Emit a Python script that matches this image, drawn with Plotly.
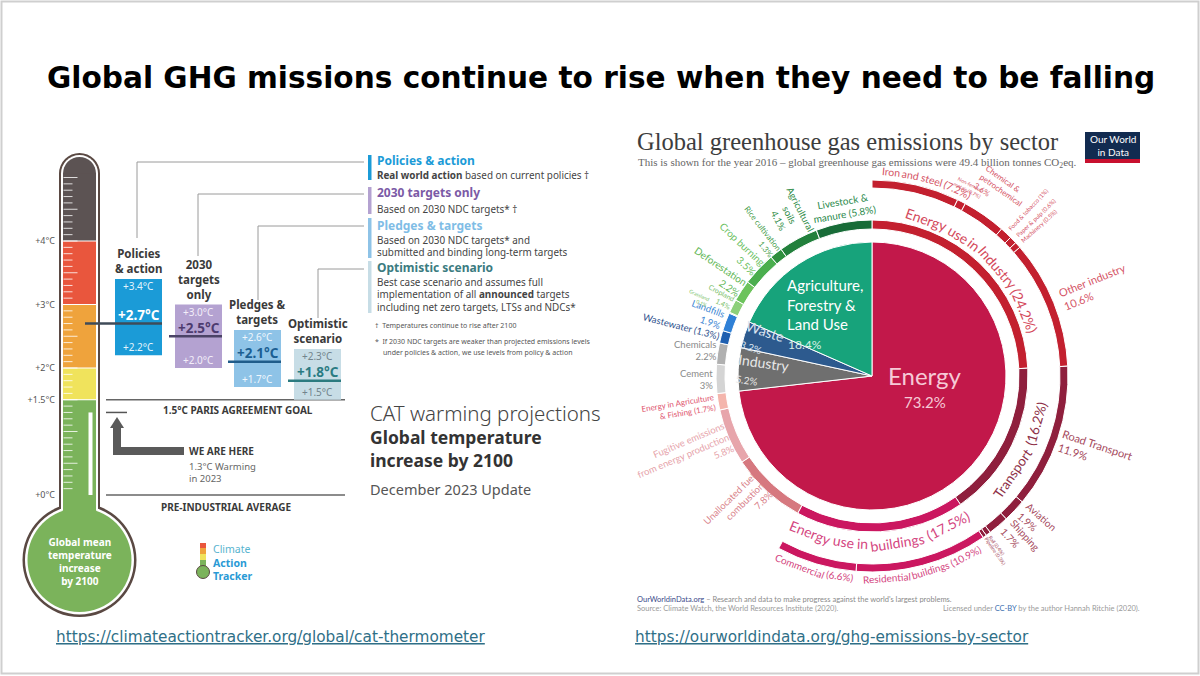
import math
import plotly.graph_objects as go

W, H = 1200, 676

# ============================ DATA ============================
slide_title = "Global GHG missions continue to rise when they need to be falling"

# --- Climate Action Tracker: warming by 2100 (°C) ---
scenario_headings = ["Policies<br>& action", "2030<br>targets<br>only", "Pledges &<br>targets", "Optimistic<br>scenario"]
scenario_low = [2.2, 2.0, 1.7, 1.5]
scenario_central = [2.7, 2.5, 2.1, 1.8]
scenario_high = [3.4, 3.0, 2.6, 2.3]
thermo_tick_values = [0, 1.5, 2, 3, 4]
thermo_tick_text = ["+0°C", "+1.5°C", "+2°C", "+3°C", "+4°C"]
band_limits = [1.5, 2.0, 3.0, 4.0]
paris_goal = 1.5
preindustrial = 0.0
warming_2023 = 1.3

legend_titles = ["Policies & action", "2030 targets only", "Pledges & targets", "Optimistic scenario"]
legend_bodies = [
    ["<b>Real world action</b> based on current policies †"],
    ["Based on 2030 NDC targets* †"],
    ["Based on 2030 NDC targets* and", "submitted and binding long-term targets"],
    ["Best case scenario and assumes full",
     "implementation of all <b>announced</b> targets",
     "including net zero targets, LTSs and NDCs*"],
]

# --- Our World in Data: share of global GHG emissions 2016 (%) ---
sector_names = ["Energy", "Industry", "Waste", "Agriculture, Forestry & Land Use"]
sector_shares = [73.2, 5.2, 3.2, 18.4]

sub_names = ["Energy use in Industry", "Transport", "Energy use in buildings",
             "Unallocated fuel combustion", "Fugitive emissions from energy production",
             "Energy in Agriculture & Fishing", "Cement", "Chemicals", "Wastewater", "Landfills",
             "Grassland", "Cropland", "Deforestation", "Crop burning", "Rice cultivation",
             "Agricultural soils", "Livestock & manure"]
sub_shares = [24.2, 16.2, 17.5, 7.8, 5.8, 1.7, 3.0, 2.2, 1.3, 1.9,
              0.1, 1.4, 2.2, 3.5, 1.3, 4.1, 5.8]

detail_names = ["Iron and steel", "Non-ferrous metals", "Chemical & petrochemical",
                "Food & tobacco", "Paper & pulp", "Machinery", "Other industry",
                "Road Transport", "Aviation", "Shipping", "Rail", "Pipeline",
                "Residential buildings", "Commercial"]
detail_shares = [7.2, 0.7, 3.6, 1.0, 0.6, 0.5, 10.6, 11.9, 1.9, 1.7, 0.4, 0.3, 10.9, 6.6]
detail_parent = ["Energy use in Industry"] * 7 + ["Transport"] * 5 + ["Energy use in buildings"] * 2

# ============================ STYLE ============================
SANS = "Noto Sans"
LATO = "Lato"
scenario_colors = ["#1b9bd7", "#b4a2d1", "#8ec3e7", "#c7dde6"]
median_colors = ["#3f4b58", "#4b4366", "#1f5c8a", "#2b7b80"]
high_low_colors = ["#e3f3fb", "#f3eef9", "#f0f7fd", "#72848c"]
central_colors = ["#ffffff", "#4d3b6f", "#1b5e92", "#2a7b82"]
legend_colors = ["#1b9bd7", "#7b5aa6", "#7fbde6", "#3b7b80"]
band_colors = ["#7bb35b", "#f0e35c", "#efa33c", "#e9563d", "#5c5353"]
BROWN = "#5a4943"

sector_colors = ["#c2184a", "#6f6f6f", "#2d5a8e", "#17a37b"]
sub_colors = ["#c3202f", "#8f1f3d", "#cb1760", "#d6787f", "#e7a5ab", "#f4b5ac",
              "#d4d4d4", "#b0b0b0", "#1e5fb0", "#2f80d6",
              "#a5d98e", "#8dd07a", "#6cc35c", "#4aae4e", "#2e8f3e", "#22803c", "#186c38"]
detail_colors = ["#c3202f"] * 7 + ["#8f1f3d"] * 5 + ["#cb1760"] * 2

# ============================ HELPERS ============================
def P(x): return x / W
def Q(y): return 1 - y / H

T0_PX, PX_PER_C = 495.0, 63.5          # thermometer: pixel row of +0°C, pixels per °C
def T_of(ypx): return (T0_PX - ypx) / PX_PER_C

shapes, ann = [], []

def t(x, y, s, size, color, family=SANS, weight="normal", xanchor="left", yanchor="middle",
      angle=0, align="left", xref="paper", yref="paper", xshift=0, yshift=0, under=False):
    font = dict(size=size, color=color, family=family, weight=weight)
    if under:
        font["lineposition"] = "under"
    xx = P(x) if xref == "paper" else x
    yy = Q(y) if yref == "paper" else y
    ann.append(dict(x=xx, y=yy, xref=xref, yref=yref, text=s, showarrow=False, font=font,
                    xanchor=xanchor, yanchor=yanchor, textangle=angle, align=align,
                    xshift=xshift, yshift=yshift, borderpad=0))

def prect(x0, y0, x1, y1, fill, layer="below"):
    shapes.append(dict(type="rect", xref="paper", yref="paper", x0=P(x0), x1=P(x1),
                       y0=Q(y1), y1=Q(y0), fillcolor=fill, line=dict(width=0), layer=layer))

def pcirc(cx, cy, r, fill, layer="below", line=None):
    shapes.append(dict(type="circle", xref="paper", yref="paper", x0=P(cx - r), x1=P(cx + r),
                       y0=Q(cy + r), y1=Q(cy - r), fillcolor=fill,
                       line=line or dict(width=0), layer=layer))

def pline(x0, y0, x1, y1, color, width=1, layer="below"):
    shapes.append(dict(type="line", xref="paper", yref="paper", x0=P(x0), y0=Q(y0),
                       x1=P(x1), y1=Q(y1), line=dict(color=color, width=width), layer=layer))

def ppath(pts, fill, layer="below"):
    d = "M " + " L ".join(f"{P(x)},{Q(y)}" for x, y in pts) + " Z"
    shapes.append(dict(type="path", xref="paper", yref="paper", path=d, fillcolor=fill,
                       line=dict(width=0), layer=layer))

def drect(x0, t0, x1, t1, fill, layer="below"):
    shapes.append(dict(type="rect", xref="x", yref="y", x0=x0, x1=x1, y0=t0, y1=t1,
                       fillcolor=fill, line=dict(width=0), layer=layer))

def dline(x0, t0, x1, t1, color, width=1, layer="below"):
    shapes.append(dict(type="line", xref="x", yref="y", x0=x0, x1=x1, y0=t0, y1=t1,
                       line=dict(color=color, width=width), layer=layer))

def pct(v):
    return f"{v:g}%"

fig = go.Figure()

# frame of the slide
shapes.append(dict(type="rect", xref="paper", yref="paper", x0=P(1.5), x1=P(1198.5), y0=Q(673.5), y1=Q(1.5),
                   line=dict(color="#cfcfcf", width=2), fillcolor="rgba(0,0,0,0)", layer="below"))

# title
t(601, 78, slide_title, 29.6, "#000000", family="DejaVu Sans", weight="bold", xanchor="center")

# ============================ LEFT: CAT THERMOMETER ============================
TX = 79.5
TUBE_TOP, TUBE_BOT = 173.5, 530
BULB_Y, BULB_R = 560, 57
prect(TX - 20.5, TUBE_TOP, TX + 20.5, TUBE_BOT, BROWN)
pcirc(TX, TUBE_TOP, 20.5, BROWN)
pcirc(TX, BULB_Y, BULB_R, BROWN)
prect(TX - 18.5, TUBE_TOP, TX + 18.5, TUBE_BOT, "white")
pcirc(TX, TUBE_TOP, 18.5, "white")
pcirc(TX, BULB_Y, BULB_R - 2.5, "white")
band_bottoms = [T_of(TUBE_BOT)] + band_limits
band_tops = band_limits + [T_of(TUBE_TOP)]
for b0, b1, c in zip(band_bottoms, band_tops, band_colors):
    drect(TX - 16.5, b0, TX + 16.5, b1, c)
pcirc(TX, TUBE_TOP, 16.5, band_colors[-1])
pcirc(TX, BULB_Y, BULB_R - 5, band_colors[0])
for lim in band_limits:
    dline(TX - 16.5, lim, TX + 16.5, lim, "white", 1.2)
for k in range(1, 51):
    long = (k % 5 == 0)
    dline(TX - 16, k / 10, TX - 16 + (14 if long else 9), k / 10, "rgba(255,255,255,0.8)", 1)
drect(TX + 9, preindustrial, TX + 13, warming_2023, "white")

# scenario bars
scenario_x = [138.5, 198.5, 257.5, 317.5]
BAR_W = 47
fig.add_trace(go.Bar(x=scenario_x, y=[h - l for h, l in zip(scenario_high, scenario_low)],
                     base=scenario_low, width=BAR_W, xaxis="x", yaxis="y",
                     marker=dict(color=scenario_colors, line=dict(width=0)), hoverinfo="skip"))

median_start = [85, 169, 228, 288]
for i in range(4):
    dline(median_start[i], scenario_central[i], scenario_x[i] + BAR_W / 2, scenario_central[i],
          median_colors[i], 2.5, layer="above")
    t(scenario_x[i], scenario_high[i], f"+{scenario_high[i]:.1f}°C", 10, high_low_colors[i],
      xanchor="center", xref="x", yref="y", yshift=-7)
    t(scenario_x[i], scenario_low[i], f"+{scenario_low[i]:.1f}°C", 10, high_low_colors[i],
      xanchor="center", xref="x", yref="y", yshift=8)
    t(scenario_x[i], scenario_central[i], f"+{scenario_central[i]:.1f}°C", 13.5, central_colors[i],
      weight="bold", xanchor="center", xref="x", yref="y", yshift=8.5)
    t(scenario_x[i], scenario_high[i], scenario_headings[i], 11.5, "#3a3a3a", weight="bold",
      xanchor="center", yanchor="bottom", align="center", xref="x", yref="y", yshift=2)

# connectors to legend
conn_x = [137, 198, 258, 318]
conn_bottom = [238, 256, 300, 318]
conn_top = [162, 194, 226, 269]
for cx_, cb, ct in zip(conn_x, conn_bottom, conn_top):
    pline(cx_, cb, cx_, ct, "#9a9a9a", 1)
    pline(cx_, ct, 364, ct, "#9a9a9a", 1)

# legend
leg_bar_y = [(155, 180), (187, 214), (218, 258), (261, 313)]
leg_title_y = [160.5, 193, 225, 267]
leg_body_y = [[175.5], [208.5], [240, 252.5], [282, 294.5, 307]]
for i in range(4):
    prect(368, leg_bar_y[i][0], 371.5, leg_bar_y[i][1], scenario_colors[i])
    t(376, leg_title_y[i], legend_titles[i], 12, legend_colors[i], weight="bold")
    for yy, body in zip(leg_body_y[i], legend_bodies[i]):
        t(376, yy, body, 9.9, "#444444")
t(374, 325.5, "†  Temperatures continue to rise after 2100", 7, "#555555")
t(374, 341.5, "*  If 2030 NDC targets are weaker than projected emissions levels", 7, "#555555")
t(382, 352.5, "under policies & action, we use levels from policy & action", 7, "#555555")

# Paris goal / pre-industrial lines
dline(106, paris_goal, 345, paris_goal, "#666666", 1.3)
t(238, 410, "1.5°C PARIS AGREEMENT GOAL", 10, "#3a3a3a", weight="bold", xanchor="center")
dline(106, preindustrial, 345, preindustrial, "#666666", 1.3)
t(226, 507, "PRE-INDUSTRIAL AVERAGE", 10, "#3a3a3a", weight="bold", xanchor="center")

# "we are here" marker
dline(106, warming_2023, 127, warming_2023, "#555555", 1.5)
ppath([(117, 417), (124, 428), (110, 428)], "#5a5a5a")
prect(113, 428, 121, 455, "#5a5a5a")
prect(113, 447, 184, 455, "#5a5a5a")
t(188, 451, "WE ARE HERE", 10, "#3a3a3a", weight="bold")
t(188, 472, f"{warming_2023}°C Warming<br>in 2023", 9.5, "#666666")

# CAT caption
t(369, 413, "CAT warming projections", 20.5, "#444444", weight=300)
t(369, 437, "Global temperature", 17.5, "#333333", weight="bold")
t(369, 460, "increase by 2100", 17.5, "#333333", weight="bold")
t(369, 489, "December 2023 Update", 14.5, "#555555")

# bulb text
t(TX, 561, "Global mean<br>temperature<br>increase<br>by 2100", 10, "white", weight="bold",
  xanchor="center", align="center")

# CAT logo
prect(200, 543, 206, 548, "#e9563d")
prect(200, 548, 206, 554, "#efa33c")
prect(200, 554, 206, 560, "#f0e35c")
prect(200, 560, 206, 570, "#7bb35b")
pcirc(203, 572, 6.5, "#7bb35b", line=dict(color=BROWN, width=1))
t(212, 562, "<span style='color:#58b4cf'>Climate</span><br><b>Action</b><br><b>Tracker</b>", 10.5,
  "#2a9ad5", align="left")

# link
t(55, 637, "https://climateactiontracker.org/global/cat-thermometer", 15.3, "#2f6f87",
  family="DejaVu Sans", under=True)

# ============================ RIGHT: OWID DONUT ============================
CX, CY, RMAX = 872, 376, 200
PIE_R = 134
MID_R = (147, 156)
OUT_R = (188, 196)

arc = {}
s = 0.0
for n, v in zip(sector_names, sector_shares):
    arc[n] = (s, s + v * 3.6); s += v * 3.6
s = 0.0
for n, v in zip(sub_names, sub_shares):
    arc[n] = (s, s + v * 3.6); s += v * 3.6
cursor = {}
for n, v, p in zip(detail_names, detail_shares, detail_parent):
    st = cursor.get(p, arc[p][0])
    arc[n] = (st, st + v * 3.6); cursor[p] = st + v * 3.6
share = dict(zip(sector_names + sub_names + detail_names, sector_shares + sub_shares + detail_shares))

def ring(names, colors, r0, r1):
    return go.Barpolar(theta=[(arc[n][0] + arc[n][1]) / 2 for n in names],
                       width=[arc[n][1] - arc[n][0] for n in names],
                       base=[r0] * len(names), r=[r1 - r0] * len(names),
                       marker=dict(color=colors, line=dict(color="white", width=1)),
                       hoverinfo="skip", subplot="polar")

fig.add_trace(ring(sector_names, sector_colors, 0, PIE_R))
fig.add_trace(ring(sub_names, sub_colors, *MID_R))
fig.add_trace(ring(detail_names, detail_colors, *OUT_R))

def polar_px(theta, R):
    return CX + R * math.sin(math.radians(theta)), CY - R * math.cos(math.radians(theta))

def mid(n):
    return (arc[n][0] + arc[n][1]) / 2

def norm(a):
    while a > 180: a -= 360
    while a < -180: a += 360
    return a

def label_angle(theta, mode):
    if mode == "tan":
        return norm(theta) if (theta < 90 or theta > 270) else norm(theta - 180)
    if mode == "rad":
        return norm(theta - 90) if theta < 180 else norm(theta - 270)
    return 0

EM = {" ": 0.25, "i": 0.24, "l": 0.24, "r": 0.36, "t": 0.35, "s": 0.42, "(": 0.3, ")": 0.3,
      ".": 0.25, "%": 0.8, "I": 0.26, "c": 0.46, "f": 0.32, "j": 0.24, "m": 0.82, "w": 0.74}
def em_width(s):
    return sum(EM.get(c, 0.6 if c.isupper() else (0.58 if c.isdigit() else 0.52)) for c in s)

def curved(text_, theta_c, R, size, color, top=True):
    words = text_.split(" ")
    widths = [em_width(w) * size for w in words]
    gap = 0.25 * size
    total = sum(widths) + gap * (len(words) - 1)
    direction = 1 if top else -1
    pos = -total / 2
    for w, wd in zip(words, widths):
        sm = pos + wd / 2
        th = theta_c + direction * math.degrees(sm / R)
        x, y = polar_px(th, R)
        ang = norm(th) if top else norm(th - 180)
        t(x, y, w, size, color, family=LATO, xanchor="center", angle=ang)
        pos += wd + gap

curved_labels = [
    ("Energy use in Industry", 166, 14, "#d44a5c", True, 0),
    ("Transport", 171, 13.5, "#8e3048", False, 0),
    ("Energy use in buildings", 168, 14, "#d4467f", False, 0),
    ("Iron and steel", 205, 10.5, "#d55466", True, 3),
    ("Residential buildings", 203, 10, "#d4467f", False, 0),
    ("Commercial", 203, 10, "#d4467f", False, 0),
]
for name, R, size, color, top, dth in curved_labels:
    curved(f"{name} ({pct(share[name])})", mid(name) + dth, R, size, color, top)

straight_labels = [
    # name, radius, mode, size, template, align, angle offset, colour
    ("Unallocated fuel combustion", 188, "rad", 9.5, "Unallocated fuel<br>combustion<br>{p}", "right", 3, "#d9828a"),
    ("Fugitive emissions from energy production", 205, "rad", 9.5, "Fugitive emissions<br>from energy production<br>{p}", "right", 0, "#e6a3aa"),
    ("Energy in Agriculture & Fishing", 196, "rad", 8, "Energy in Agriculture<br>& Fishing ({p})", "right", 0, "#e0566f"),
    ("Cement", 176, "flat", 9.5, "Cement<br>{p}", "right", 0, "#8a8a8a"),
    ("Chemicals", 178, "flat", 9.5, "Chemicals<br>{p}", "right", 0, "#8a8a8a"),
    ("Wastewater", 197, "rad", 9.5, "Wastewater ({p})", "right", 0, "#2c4f8c"),
    ("Landfills", 176, "rad", 9.5, "Landfills<br>{p}", "right", 0, "#3d87d4"),
    ("Grassland", 190, "rad", 5, "Grassland<br>{p}", "right", 0, "#78c068"),
    ("Cropland", 172, "rad", 7, "Cropland<br>{p}", "right", 1, "#78c068"),
    ("Deforestation", 187, "rad", 10, "Deforestation<br>{p}", "right", 1, "#62b756"),
    ("Crop burning", 185, "rad", 10, "Crop burning<br>{p}", "right", 0, "#6cbf62"),
    ("Rice cultivation", 183, "rad", 8, "Rice cultivation<br>{p}", "right", 0, "#4aa04e"),
    ("Agricultural soils", 181, "rad", 9.5, "Agricultural<br>soils<br>{p}", "center", 1, "#2e8c45"),
    ("Livestock & manure", 171, "tan", 10, "Livestock &<br>manure ({p})", "center", 1, "#2b8a4c"),
    ("Non-ferrous metals", 212, "tan", 5, "Non-ferrous<br>metals ({p})", "center", 0, "#d55466"),
    ("Chemical & petrochemical", 226, "tan", 8, "Chemical &<br>petrochemical<br>{p}", "left", 0, "#d55466"),
    ("Food & tobacco", 228, "rad", 6, "Food & tobacco ({p})", "left", 0, "#d55466"),
    ("Paper & pulp", 228, "rad", 6, "Paper & pulp ({p})", "left", 0, "#d55466"),
    ("Machinery", 225, "rad", 6, "Machinery ({p})", "left", 0, "#d55466"),
    ("Other industry", 240, "rad", 11, "Other industry<br>{p}", "left", 0, "#d55466"),
    ("Road Transport", 236, "rad", 11, "Road Transport<br>{p}", "left", 0, "#a5495c"),
    ("Aviation", 220, "rad", 10, "Aviation<br>{p}", "left", -2, "#a5495c"),
    ("Shipping", 221, "rad", 10, "Shipping<br>{p}", "left", -2, "#a5495c"),
    ("Rail", 211, "rad", 5, "Rail ({p})", "left", 0, "#a5495c"),
    ("Pipeline", 214, "rad", 5, "Pipeline ({p})", "left", 0, "#a5495c"),
]
for name, R, mode, size, tmpl, align, dth, color in straight_labels:
    th = mid(name) + dth
    x, y = polar_px(th, R)
    t(x, y, tmpl.format(p=pct(share[name])), size, color, family=LATO, xanchor="center",
      angle=label_angle(th, mode), align=align)

# inner pie labels
t(925, 376, "Energy", 24, "#f6c9d6", family=LATO, xanchor="center")
t(925, 402, pct(share["Energy"]), 15, "#f6c9d6", family=LATO, xanchor="center")
t(786, 305, "Agriculture,<br>Forestry &<br>Land Use", 15, "#ffffff", family=LATO)
t(787, 344, pct(share["Agriculture, Forestry & Land Use"]), 12, "#d9f1e6", family=LATO)
t(762, 339, f"Waste<br><span style='font-size:10px'>{pct(share['Waste'])}</span>", 14, "#dbe4f0",
  family=LATO, xanchor="center", angle=18)
t(762, 371, f"Industry<br><span style='font-size:10px'>{pct(share['Industry'])}</span>", 14, "#e8e8e8",
  family=LATO, xanchor="center", angle=8)

# OWID header
t(636, 141, "Global greenhouse gas emissions by sector", 24.5, "#3d3d3d", family="Liberation Serif")
t(637, 162.5, "This is shown for the year 2016 – global greenhouse gas emissions were 49.4 billion tonnes CO<sub>2</sub>eq.",
  11, "#666666", family="Liberation Serif")
prect(1085, 132, 1140, 159, "#122b50")
prect(1085, 159, 1140, 163, "#c8102e")
t(1112.5, 145.5, "Our World<br>in Data", 10, "white", family=LATO, xanchor="center", align="center")

# OWID footer
t(636, 599, "<span style='color:#3b4a8a'>OurWorldinData.org</span> – Research and data to make progress against the world's largest problems.",
  7.5, "#8a8a8a", family=LATO)
t(636, 608, "Source: Climate Watch, the World Resources Institute (2020).", 7.5, "#9a9a9a", family=LATO)
t(1141, 608, "Licensed under <span style='color:#3b6fb0'>CC-BY</span> by the author Hannah Ritchie (2020).",
  7.5, "#9a9a9a", family=LATO, xanchor="right")

t(634, 637, "https://ourworldindata.org/ghg-emissions-by-sector", 15.3, "#2f6f87",
  family="DejaVu Sans", under=True)

# ============================ LAYOUT ============================
fig.update_layout(
    width=W, height=H, margin=dict(l=0, r=0, t=0, b=0),
    paper_bgcolor="white", plot_bgcolor="rgba(0,0,0,0)", showlegend=False,
    xaxis=dict(domain=[0, 624 / W], range=[0, 624], visible=False, fixedrange=True),
    yaxis=dict(domain=[0, 1], range=[T_of(H), T_of(0)], anchor="free", position=58 / W,
               tickvals=thermo_tick_values, ticktext=thermo_tick_text, showgrid=False,
               zeroline=False, showline=False, ticks="", ticklabelstandoff=3,
               tickfont=dict(size=9, color="#555555", family=SANS), fixedrange=True),
    polar=dict(domain=dict(x=[P(CX - RMAX), P(CX + RMAX)], y=[Q(CY + RMAX), Q(CY - RMAX)]),
               bgcolor="rgba(0,0,0,0)", hole=0,
               radialaxis=dict(range=[0, RMAX], visible=False),
               angularaxis=dict(rotation=90, direction="clockwise", visible=False)),
    shapes=shapes, annotations=ann,
)

fig.write_html("out.html", config={"displayModeBar": False, "staticPlot": True},
               post_script="document.body.style.margin='0px';document.documentElement.style.overflow='hidden';")
